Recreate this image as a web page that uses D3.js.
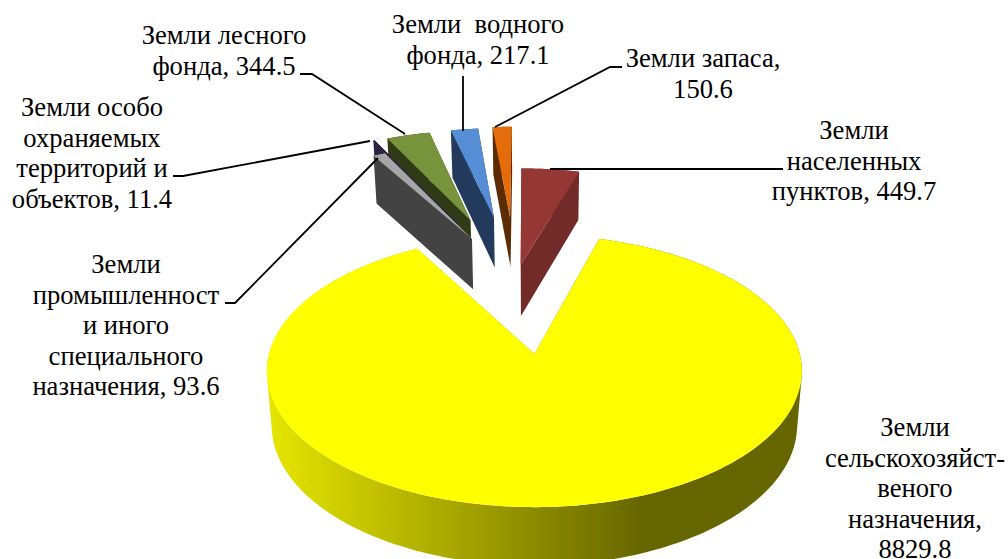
<!DOCTYPE html>
<html>
<head>
<meta charset="utf-8">
<script src="https://cdn.jsdelivr.net/npm/d3@7"></script>
<style>
    html, body { margin: 0; padding: 0; background: #fff; }
    svg { display: block; }
    text { font-family: "Liberation Serif", serif; font-size: 26.6px; fill: #000; }
</style>
</head>
<body>
<div id="chart"></div>
<script>
// values clockwise starting from the big slice
const categories = [
    "Земли сельскохозяйственного назначения",
    "Земли промышленности и иного специального назначения",
    "Земли особо охраняемых территорий и объектов",
    "Земли лесного фонда",
    "Земли водного фонда",
    "Земли запаса",
    "Земли населенных пунктов"
];
const values = [8829.8, 93.6, 11.4, 344.5, 217.1, 150.6, 449.7];
const topColors = ["#ffff00", "#a6a6a6", "#403152", "#77933c", "#558ed5", "#e46c0a", "#953735"];
const sideColors = ["url(#yellowSide)", "#434343", "#2e2440", "#2f3b17", "#233a5c", "#5c2c04", "#732b29"];
const explode = [0.567, 0.45, 0.6, 0.61, 0.61, 0.61, 0.163];
const nudge = [0, 0.012, 0, -0.005, -0.008, -0.008, -0.012];
const radii = [1, 0.98, 0.98, 0.97, 0.97, 0.98, 0.95];
const drawOrder = [0, 3, 2, 1, 4, 5, 6];

const labelLines = [
    ["Земли", "сельскохозяйст-", "веного", "назначения,", "8829.8"],
    ["Земли", "промышленност", "и иного", "специального", "назначения, 93.6"],
    ["Земли особо", "охраняемых", "территорий и", "объектов, 11.4"],
    ["Земли лесного", "фонда, 344.5"],
    ["Земли  водного", "фонда, 217.1"],
    ["Земли запаса,", "150.6"],
    ["Земли", "населенных", "пунктов, 449.7"]
];
const labelCenter = [[915, 436], [126, 273], [92, 116], [224, 44], [478, 33], [703, 67], [854, 139]];
const leaders = [
    null,
    [[378, 158], [235, 303], [225, 303]],
    [[370, 141], [183, 176], [173, 176]],
    [[405, 134], [312, 74], [300, 74]],
    [[463, 131], [463, 76]],
    [[495, 127], [610, 67], [622, 67]],
    [[550, 169], [783, 169]]
];

const width = 1008, height = 559;
const svg = d3.select("#chart").append("svg")
    .attr("width", width)
    .attr("height", height);

const grad = svg.append("defs").append("linearGradient")
    .attr("id", "yellowSide")
    .attr("gradientUnits", "userSpaceOnUse")
    .attr("x1", 268).attr("x2", 803).attr("y1", 0).attr("y2", 0);
grad.append("stop").attr("offset", "0").attr("stop-color", "#e6e600");
grad.append("stop").attr("offset", "0.7").attr("stop-color", "#666600");
grad.append("stop").attr("offset", "1").attr("stop-color", "#666600");

// perspective of the disc, fitted to the big slice
const x0 = 536, y0 = 354, A = 134, B = 265.4, k = 0.125;
const centre = [-0.073, 0.563];

function project(u, v) {
    const w = 1 + k * v;
    return [x0 + B * u / w, y0 - A * v / w];
}
function lower(p) {
    return [x0 + (p[0] - x0) * 0.982, p[1] + 47 + 0.03 * (p[1] - 127)];
}

const startDeg = 15.8;
const pie = d3.pie().sort(null)
    .startAngle(startDeg * Math.PI / 180)
    .endAngle((startDeg + 360) * Math.PI / 180);
const arcs = pie(values);

function slicePaths(d, i) {
    const mid = (d.startAngle + d.endAngle) / 2;
    const cu = centre[0] + explode[i] * Math.sin(mid) + nudge[i];
    const cv = centre[1] + explode[i] * Math.cos(mid);
    const n = i === 0 ? 240 : 12;
    const rim = d3.range(0, n + 1).map(j => {
        const a = d.startAngle + (d.endAngle - d.startAngle) * j / n;
        return project(cu + radii[i] * Math.sin(a), cv + radii[i] * Math.cos(a));
    });
    return { apex: project(cu, cv), rim };
}

const line = d3.line();

// all wall quads in one path, same winding, so no seams show
function wallPath(apex, rim) {
    const quads = [[apex, rim[0]], [apex, rim[rim.length - 1]]].concat(d3.pairs(rim));
    return quads.map(q => {
        const poly = [q[0], q[1], lower(q[1]), lower(q[0])];
        if (d3.polygonArea(poly) < 0) poly.reverse();
        return line(poly) + "Z";
    }).join("");
}

function drawTop(i, stroke) {
    const { apex, rim } = slicePaths(arcs[i], i);
    const top = svg.append("path")
        .attr("d", line([apex].concat(rim)) + "Z")
        .attr("fill", topColors[i]);
    if (stroke) top.attr("stroke", stroke).attr("stroke-width", 1);
}

drawOrder.forEach(i => {
    const { apex, rim } = slicePaths(arcs[i], i);
    svg.append("path")
        .attr("d", wallPath(apex, rim))
        .attr("fill", sideColors[i]);
    drawTop(i);
});
// the thin purple slice sits over the grey one
drawTop(2, sideColors[2]);

leaders.forEach(pts => {
    if (!pts) return;
    svg.append("path")
        .attr("d", line(pts))
        .attr("fill", "none")
        .attr("stroke", "#000")
        .attr("stroke-width", 1.8);
});

labelLines.forEach((rows, i) => {
    const t = svg.append("text")
        .attr("text-anchor", "middle")
        .attr("xml:space", "preserve");
    rows.forEach((r, j) => {
        t.append("tspan")
            .attr("x", labelCenter[i][0])
            .attr("y", labelCenter[i][1] + j * 30.5)
            .text(r);
    });
});
</script>
</body>
</html>
